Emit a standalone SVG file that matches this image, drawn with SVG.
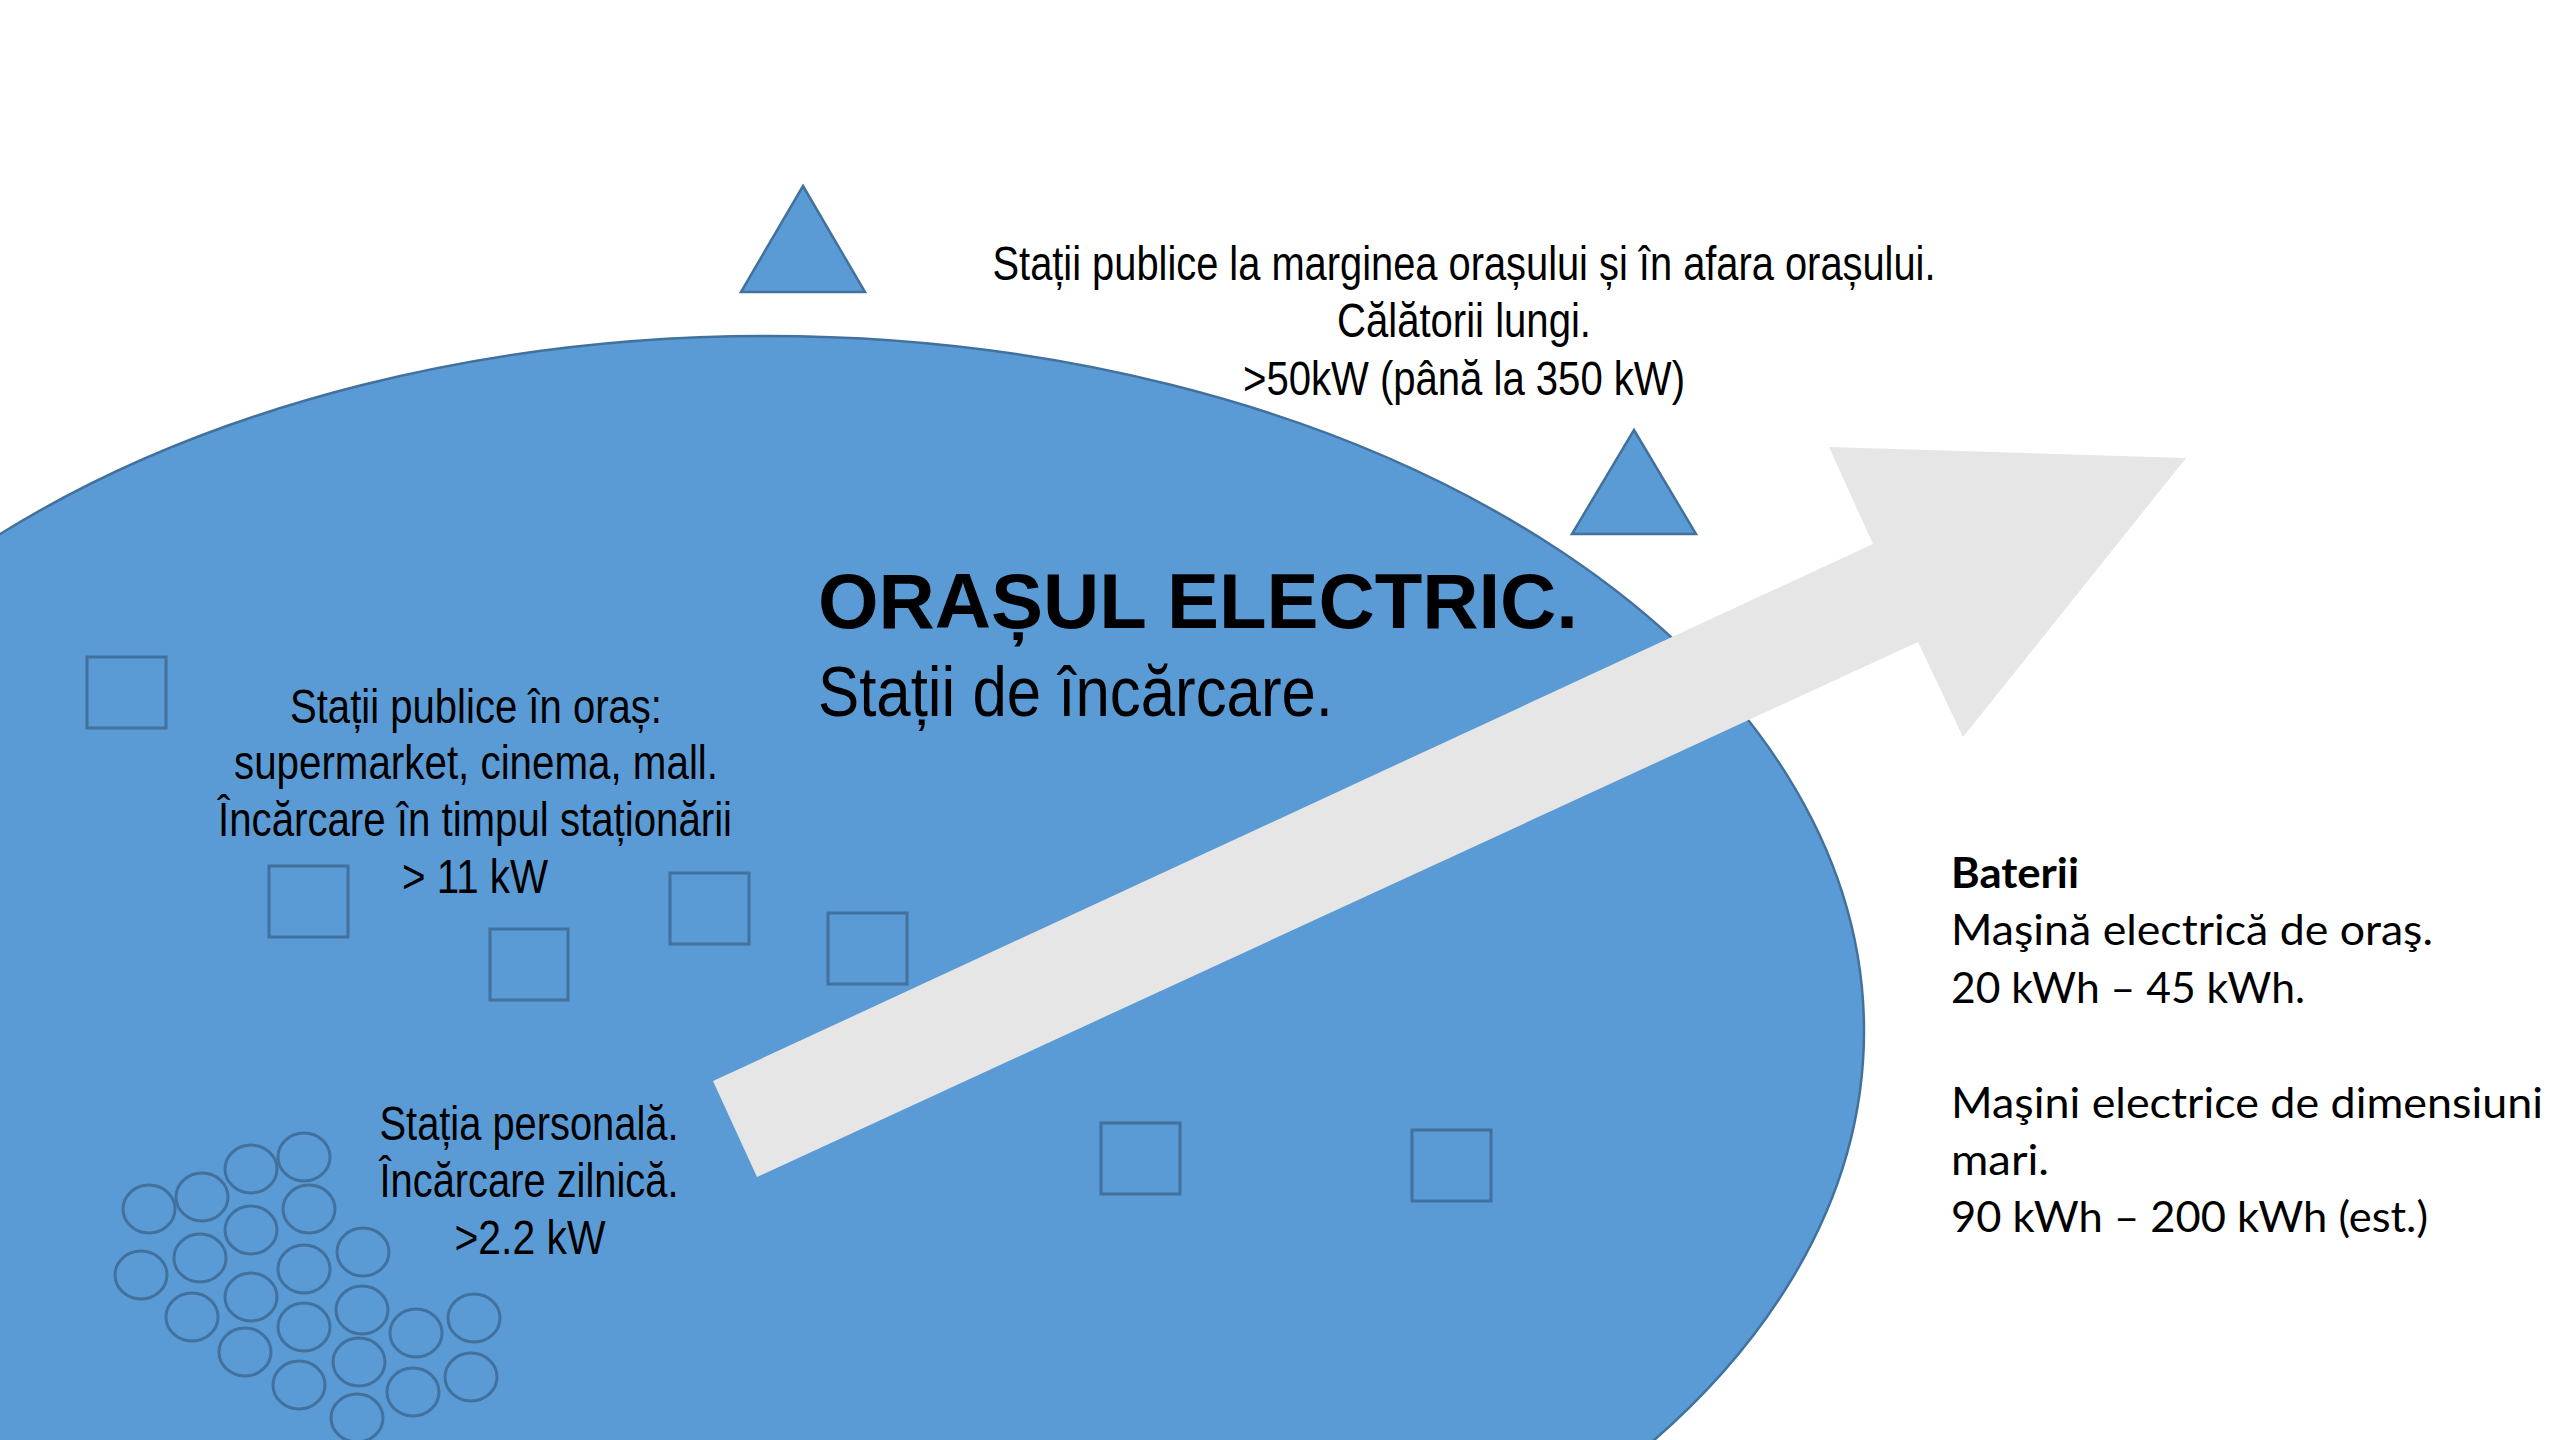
<svg xmlns="http://www.w3.org/2000/svg" width="2560" height="1440" viewBox="0 0 2560 1440">
<style>
.shape{fill:#5B9BD5;stroke:#41719C;stroke-width:2.5}
.sq{fill:none;stroke:#41719C;stroke-width:3}
.cir{fill:none;stroke:#41719C;stroke-width:3}
.cond{font-family:"Liberation Sans",Arial,sans-serif;font-size:48px;fill:#000;text-anchor:middle}
.bat{font-family:Lato,"Open Sans",sans-serif;font-size:42px;fill:#000}
</style>
<rect width="2560" height="1440" fill="#FFFFFF"/>
<g id="city">
<ellipse class="shape" cx="767" cy="1031" rx="1097" ry="695"/>
</g>
<g id="highway-stations">
<polygon class="shape" points="803,186 865,292 741,292"/>
<polygon class="shape" points="1634,430 1696,534 1572,534"/>
</g>
<g id="public-stations">
<rect class="sq" x="87" y="657" width="79" height="71"/>
<rect class="sq" x="269" y="866" width="79" height="71"/>
<rect class="sq" x="490" y="929" width="78" height="71"/>
<rect class="sq" x="670" y="873" width="79" height="71"/>
<rect class="sq" x="828" y="913" width="79" height="71"/>
<rect class="sq" x="1101" y="1123" width="79" height="71"/>
<rect class="sq" x="1412" y="1130" width="79" height="71"/>
</g>
<g id="personal-stations">
<ellipse class="cir" cx="149" cy="1209" rx="26" ry="24"/>
<ellipse class="cir" cx="202" cy="1197" rx="26" ry="24"/>
<ellipse class="cir" cx="251" cy="1169" rx="26" ry="24"/>
<ellipse class="cir" cx="304" cy="1157" rx="26" ry="24"/>
<ellipse class="cir" cx="309" cy="1209" rx="26" ry="24"/>
<ellipse class="cir" cx="251" cy="1230" rx="26" ry="24"/>
<ellipse class="cir" cx="200" cy="1258" rx="26" ry="24"/>
<ellipse class="cir" cx="141" cy="1275" rx="26" ry="24"/>
<ellipse class="cir" cx="304" cy="1269" rx="26" ry="24"/>
<ellipse class="cir" cx="363" cy="1252" rx="26" ry="24"/>
<ellipse class="cir" cx="251" cy="1297" rx="26" ry="24"/>
<ellipse class="cir" cx="192" cy="1317" rx="26" ry="24"/>
<ellipse class="cir" cx="304" cy="1327" rx="26" ry="24"/>
<ellipse class="cir" cx="362" cy="1310" rx="26" ry="24"/>
<ellipse class="cir" cx="416" cy="1333" rx="26" ry="24"/>
<ellipse class="cir" cx="474" cy="1318" rx="26" ry="24"/>
<ellipse class="cir" cx="245" cy="1352" rx="26" ry="24"/>
<ellipse class="cir" cx="359" cy="1362" rx="26" ry="24"/>
<ellipse class="cir" cx="299" cy="1385" rx="26" ry="24"/>
<ellipse class="cir" cx="413" cy="1392" rx="26" ry="24"/>
<ellipse class="cir" cx="471" cy="1377" rx="26" ry="24"/>
<ellipse class="cir" cx="357" cy="1418" rx="26" ry="24"/>
</g>
<g id="connectors">
<polygon fill="#E7E6E6" points="713,1081 1873,544 1829,447 2186,458 1963,737 1918,642 757,1177"/>
</g>
<g id="title">
<text x="818" y="628" font-family="'Liberation Sans',Arial,sans-serif" font-weight="bold" font-size="77" textLength="760" lengthAdjust="spacingAndGlyphs">ORAȘUL ELECTRIC.</text>
<text x="818" y="716" font-family="'Liberation Sans',Arial,sans-serif" font-size="71" textLength="515" lengthAdjust="spacingAndGlyphs">Stații de încărcare.</text>
</g>
<g id="label-highway">
<text class="cond" x="1464" y="280" textLength="943" lengthAdjust="spacingAndGlyphs">Stații publice la marginea orașului și în afara orașului.</text>
<text class="cond" x="1464" y="337" textLength="254" lengthAdjust="spacingAndGlyphs">Călătorii lungi.</text>
<text class="cond" x="1464" y="395" textLength="442" lengthAdjust="spacingAndGlyphs">&gt;50kW (până la 350 kW)</text>
</g>
<g id="label-public">
<text class="cond" x="476" y="723" textLength="372" lengthAdjust="spacingAndGlyphs">Stații publice în oraș:</text>
<text class="cond" x="476" y="779" textLength="484" lengthAdjust="spacingAndGlyphs">supermarket, cinema, mall.</text>
<text class="cond" x="475" y="836" textLength="514" lengthAdjust="spacingAndGlyphs">Încărcare în timpul staționării</text>
<text class="cond" x="475" y="893" textLength="146" lengthAdjust="spacingAndGlyphs">&gt; 11 kW</text>
</g>
<g id="label-personal">
<text class="cond" x="529" y="1140" textLength="299" lengthAdjust="spacingAndGlyphs">Stația personală.</text>
<text class="cond" x="529" y="1197" textLength="299" lengthAdjust="spacingAndGlyphs">Încărcare zilnică.</text>
<text class="cond" x="530" y="1254" textLength="151" lengthAdjust="spacingAndGlyphs">&gt;2.2 kW</text>
</g>
<g id="label-batteries">
<text class="bat" x="1951" y="888" font-weight="bold" textLength="128" lengthAdjust="spacingAndGlyphs">Baterii</text>
<text class="bat" x="1951" y="945" textLength="482" lengthAdjust="spacingAndGlyphs">Maşină electrică de oraş.</text>
<text class="bat" x="1951" y="1003" textLength="354" lengthAdjust="spacingAndGlyphs">20 kWh – 45 kWh.</text>
<text class="bat" x="1951" y="1118" textLength="592" lengthAdjust="spacingAndGlyphs">Maşini electrice de dimensiuni</text>
<text class="bat" x="1951" y="1175" textLength="98" lengthAdjust="spacingAndGlyphs">mari.</text>
<text class="bat" x="1951" y="1232" textLength="477" lengthAdjust="spacingAndGlyphs">90 kWh – 200 kWh (est.)</text>
</g>
</svg>
